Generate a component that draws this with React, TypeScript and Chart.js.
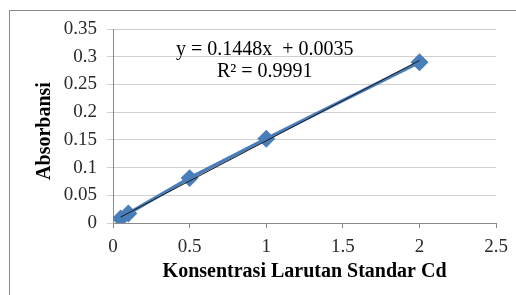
import React, { useEffect, useRef } from "react";
import { Chart, registerables } from "chart.js";

Chart.register(...registerables);

const concentrations = [0.05, 0.1, 0.5, 1, 2];
const absorbances = [0.008, 0.017, 0.081, 0.152, 0.29];
const trendX = [0.05, 2];
const trendY = [0.0107, 0.2931];
const xTicks = [0, 0.5, 1, 1.5, 2, 2.5];
const yTicks = [0, 0.05, 0.1, 0.15, 0.2, 0.25, 0.3, 0.35];
const equationLines = ["y = 0.1448x  + 0.0035", "R\u00b2 = 0.9991"];
const xTitle = "Konsentrasi Larutan Standar Cd";
const yTitle = "Absorbansi  ";

const SERIF = "'Liberation Serif', 'Times New Roman', serif";

export default function App() {
  const ref = useRef<HTMLCanvasElement | null>(null);

  useEffect(() => {
    if (!ref.current) return;
    const decor = {
      id: "decor",
      beforeDraw(chart: any) {
        const ctx = chart.ctx;
        ctx.save();
        ctx.fillStyle = "#ffffff";
        ctx.fillRect(0, 0, chart.width, chart.height);
        ctx.strokeStyle = "#8a8a8a";
        ctx.lineWidth = 1;
        ctx.strokeRect(9.5, 10.5, chart.width + 20, chart.height + 20);
        ctx.restore();
      },
      afterDraw(chart: any) {
        const ctx = chart.ctx;
        const xs = chart.scales.x;
        const ys = chart.scales.y;
        ctx.save();
        ctx.fillStyle = "#000000";
        ctx.font = `20px ${SERIF}`;
        ctx.textAlign = "center";
        ctx.textBaseline = "middle";
        const cx = xs.getPixelForValue(0.99);
        ctx.fillText(equationLines[0], cx, ys.getPixelForValue(0.312));
        ctx.fillText(equationLines[1], cx, ys.getPixelForValue(0.272));
        ctx.restore();
      },
    };

    const chart = new Chart(ref.current, {
      type: "scatter",
      data: {
        datasets: [
          {
            label: "Linear",
            data: trendX.map((x, i) => ({ x, y: trendY[i] })),
            showLine: true,
            borderColor: "#1a1a1a",
            borderWidth: 1,
            pointRadius: 0,
          },
          {
            label: "Absorbansi",
            data: concentrations.map((x, i) => ({ x, y: absorbances[i] })),
            showLine: true,
            borderColor: "#4a7ebb",
            backgroundColor: "#4a7ebb",
            borderWidth: 3.5,
            pointStyle: "rectRot",
            pointRadius: 6.5,
            pointBorderColor: "#4a7ebb",
            pointBackgroundColor: "#4a7ebb",
          },
        ],
      },
      options: {
        animation: false,
        responsive: false,
        maintainAspectRatio: false,
        layout: { padding: { top: 29, right: 19, left: 0, bottom: 0 } },
        plugins: {
          legend: { display: false },
          tooltip: { enabled: false },
        },
        scales: {
          x: {
            type: "linear",
            min: 0,
            max: 2.5,
            afterFit: (s: any) => {
              s.height = 72;
            },
            afterBuildTicks: (s: any) => {
              s.ticks = xTicks.map((v) => ({ value: v }));
            },
            ticks: {
              color: "#2a2a2a",
              font: { family: SERIF, size: 19 },
              padding: 8,
              callback: (v: any) => String(+Number(v).toFixed(2)),
            },
            grid: {
              drawOnChartArea: false,
              drawTicks: true,
              tickLength: 5,
              color: "#8a8a8a",
            },
            border: { display: true, color: "#8a8a8a", width: 1 },
            title: {
              display: true,
              text: xTitle,
              color: "#000",
              font: { family: SERIF, size: 20, weight: "bold" },
              padding: { top: 0, bottom: 11 },
            },
          },
          y: {
            type: "linear",
            min: 0,
            max: 0.35,
            afterFit: (s: any) => {
              s.width = 113;
            },
            afterBuildTicks: (s: any) => {
              s.ticks = yTicks.map((v) => ({ value: v }));
            },
            ticks: {
              color: "#2a2a2a",
              font: { family: SERIF, size: 19 },
              padding: 10,
              callback: (v: any) => String(+Number(v).toFixed(2)),
            },
            grid: {
              drawOnChartArea: true,
              drawTicks: true,
              tickLength: 6,
              color: "#cfcfcf",
            },
            border: { display: true, color: "#8a8a8a", width: 1 },
            title: {
              display: true,
              text: yTitle,
              color: "#000",
              font: { family: SERIF, size: 20, weight: "bold" },
              padding: { top: 33, bottom: 0 },
            },
          },
        },
      },
      plugins: [decor],
    });
    return () => chart.destroy();
  }, []);

  return (
    <div style={{ position: "absolute", left: 0, top: 0, width: 516, height: 295 }}>
      <canvas ref={ref} width={516} height={295} style={{ width: 516, height: 295, display: "block" }} />
    </div>
  );
}
